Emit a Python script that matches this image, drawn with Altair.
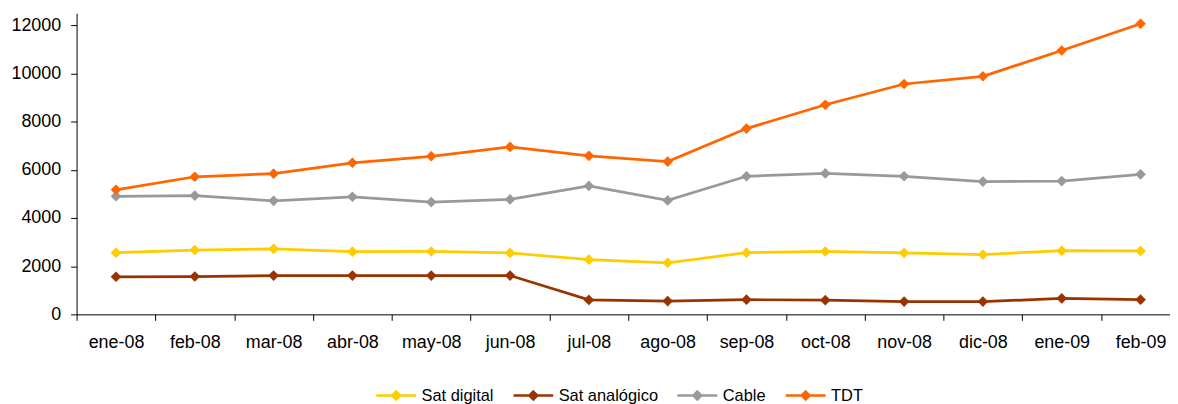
import altair as alt
import pandas as pd

months = ["ene-08", "feb-08", "mar-08", "abr-08", "may-08", "jun-08", "jul-08",
          "ago-08", "sep-08", "oct-08", "nov-08", "dic-08", "ene-09", "feb-09"]
series = ["Sat digital", "Sat analógico", "Cable", "TDT"]
colors = ["#FFCC00", "#993300", "#999999", "#FF6600"]

sat_digital = [2560, 2670, 2720, 2600, 2610, 2550, 2270, 2140, 2560, 2610, 2550, 2480, 2640, 2630]
sat_analogico = [1560, 1570, 1610, 1610, 1610, 1610, 600, 550, 610, 590, 530, 530, 660, 610]
cable = [4900, 4930, 4710, 4880, 4660, 4770, 5330, 4730, 5730, 5850, 5730, 5510, 5530, 5810]
tdt = [5170, 5710, 5840, 6290, 6560, 6950, 6580, 6340, 7710, 8700, 9560, 9880, 10950, 12060]

y_ticks = [0, 2000, 4000, 6000, 8000, 10000, 12000]

rows = []
for name, vals in zip(series, [sat_digital, sat_analogico, cable, tdt]):
    for m, v in zip(months, vals):
        rows.append({"mes": m, "valor": v, "serie": name})
df = pd.DataFrame(rows)

FONT = "Liberation Sans"

legend_symbol = "M-2.5,0H2.5M0,-0.5L0.5,0L0,0.5L-0.5,0Z"

base = alt.Chart(df).encode(
    x=alt.X(
        "mes:N", sort=months, bandPosition=0.5,
        scale=alt.Scale(type="band", paddingInner=0, paddingOuter=0, range=[0, 1110]),
        axis=alt.Axis(title=None, tickBand="extent", labelAngle=0, tickSize=6,
                      labelPadding=13, labelFontSize=18, labelFont=FONT,
                      labelColor="#000000", domainColor="#000000", tickColor="#000000",
                      grid=False),
    ),
    y=alt.Y(
        "valor:Q",
        scale=alt.Scale(domain=[0, 12500], nice=False),
        axis=alt.Axis(title=None, values=y_ticks, format="d", tickSize=6, labelPadding=10,
                      labelFontSize=18, labelFont=FONT, labelColor="#000000",
                      domainColor="#000000", tickColor="#000000", grid=False),
    ),
    color=alt.Color(
        "serie:N", sort=series,
        scale=alt.Scale(domain=series, range=colors),
        legend=alt.Legend(title=None, orient="none", direction="horizontal",
                          legendX=312, legendY=375,
                          symbolType=legend_symbol, symbolSize=256,
                          symbolStrokeWidth=2.5, labelOffset=16, columnPadding=14,
                          labelFontSize=16.5, labelFont=FONT, labelColor="#000000"),
    ),
)

lines = base.mark_line(strokeWidth=2.75)
points = base.mark_point(shape="diamond", filled=True, size=115, opacity=1)

chart = alt.layer(lines, points).properties(
    width=1100, height=303,
    padding={"left": 69, "top": 4, "right": 0, "bottom": 89},
    autosize=alt.AutoSizeParams(type="none"),
).configure_view(stroke=None)

chart.save("out.html", embed_options={"renderer": "svg", "actions": False})
